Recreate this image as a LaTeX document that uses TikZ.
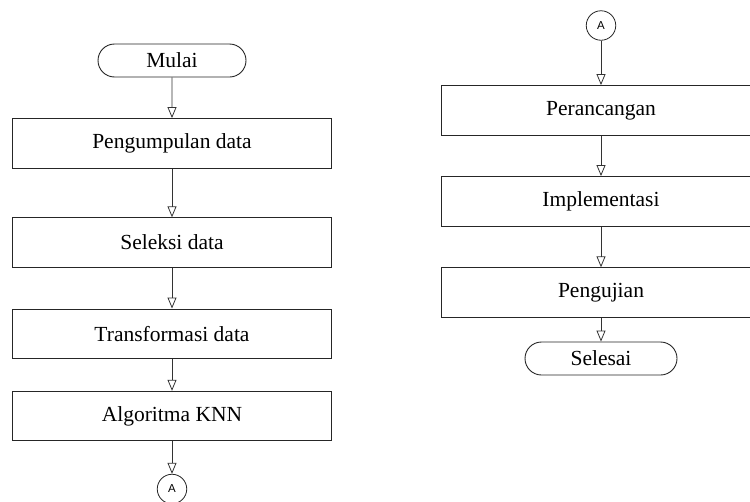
\documentclass[tikz,border=0pt]{standalone}
\usepackage{fontspec}
\setmainfont{Liberation Serif}
\newfontfamily\arialf{Liberation Sans}
\usetikzlibrary{arrows.meta,shapes.misc}
\begin{document}
\begin{tikzpicture}[x=1pt,y=-1pt,
  proc/.style={draw=black!85, line width=0.9pt, minimum width=319.5pt, minimum height=49.5pt, inner sep=0pt, font=\fontsize{21.5}{25}\selectfont},
  term/.style={rounded rectangle, draw=black!85, line width=0.9pt, minimum width=148pt, minimum height=33pt, inner sep=0pt, font=\fontsize{21.5}{25}\selectfont},
  conn/.style={circle, draw=black!85, line width=0.8pt, minimum size=29.5pt, inner sep=0pt, font=\arialf\fontsize{11.5}{13}\selectfont},
  flow/.style={draw=black!80, line width=0.8pt, -{Triangle[open,length=11pt,width=9pt]}}]
\useasboundingbox (0,0) rectangle (750,501);
\clip (0,0) rectangle (750,501);
% left column
\node[term] (mulai) at (172,60.5) {Mulai};
\node[proc] (p1) at (172,143.3) {Pengumpulan data};
\node[proc] (p2) at (172,242.5) {Seleksi data};
\node[proc] (p3) at (172,333.7) {Transformasi data};
\node[proc] (p4) at (172,416) {Algoritma KNN};
\node[conn] (a1) at (172,489) {A};
% right column
\node[conn] (a2) at (601,25.5) {A};
\node[proc] (r1) at (601,110.3) {Perancangan};
\node[proc] (r2) at (601,201.3) {Implementasi};
\node[proc] (r3) at (601,292.5) {Pengujian};
\node[term, minimum width=152pt] (selesai) at (601,358.5) {Selesai};
% connectors
\draw[flow] (mulai) -- (p1);
\draw[flow] (p1) -- (p2);
\draw[flow] (p2) -- (p3);
\draw[flow] (p3) -- (p4);
\draw[flow] (p4) -- (a1);
\draw[flow] (a2) -- (r1);
\draw[flow] (r1) -- (r2);
\draw[flow] (r2) -- (r3);
\draw[flow] (r3) -- (selesai);
\end{tikzpicture}
\end{document}
